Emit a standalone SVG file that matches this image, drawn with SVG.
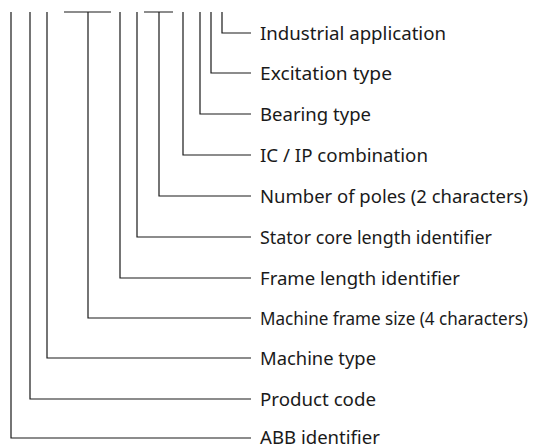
<svg xmlns="http://www.w3.org/2000/svg" width="534" height="448" viewBox="0 0 534 448">
<style>
.c{fill:none;stroke:#1a1a1a;stroke-width:1.2}
.t{font-family:"Noto Sans","Liberation Sans",sans-serif;font-size:17.5px;fill:#1a1a1a}
</style>
<rect width="534" height="448" fill="#ffffff"/>
<g id="connectors">
<path class="c" d="M222,12V33H251"/>
<path class="c" d="M211,12V73H251"/>
<path class="c" d="M200,12V114H251"/>
<path class="c" d="M183,12V155H251"/>
<path class="c" d="M159,12V196H251M144,12H173"/>
<path class="c" d="M137,12V237H251"/>
<path class="c" d="M120,12V278H251"/>
<path class="c" d="M88,12V318H251M64,12H111"/>
<path class="c" d="M47,12V358H251"/>
<path class="c" d="M30,12V399H251"/>
<path class="c" d="M11,12V438H251"/>
</g>
<g id="n1"><text class="t" x="260" y="39.5" textLength="186" lengthAdjust="spacingAndGlyphs">Industrial application</text></g>
<g id="n2"><text class="t" x="260" y="79.5" textLength="132" lengthAdjust="spacingAndGlyphs">Excitation type</text></g>
<g id="n3"><text class="t" x="260" y="120.5" textLength="111" lengthAdjust="spacingAndGlyphs">Bearing type</text></g>
<g id="n4"><text class="t" x="260" y="161.5" textLength="168" lengthAdjust="spacingAndGlyphs">IC / IP combination</text></g>
<g id="n5"><text class="t" x="260" y="202.5" textLength="268" lengthAdjust="spacingAndGlyphs">Number of poles (2 characters)</text></g>
<g id="n6"><text class="t" x="260" y="243.5" textLength="232" lengthAdjust="spacingAndGlyphs">Stator core length identifier</text></g>
<g id="n7"><text class="t" x="260" y="284.5" textLength="200" lengthAdjust="spacingAndGlyphs">Frame length identifier</text></g>
<g id="n8"><text class="t" x="260" y="324.5" textLength="268" lengthAdjust="spacingAndGlyphs">Machine frame size (4 characters)</text></g>
<g id="n9"><text class="t" x="260" y="364.5" textLength="116" lengthAdjust="spacingAndGlyphs">Machine type</text></g>
<g id="n10"><text class="t" x="260" y="405.5" textLength="116" lengthAdjust="spacingAndGlyphs">Product code</text></g>
<g id="n11"><text class="t" x="260" y="443.5" textLength="120" lengthAdjust="spacingAndGlyphs">ABB identifier</text></g>
</svg>
